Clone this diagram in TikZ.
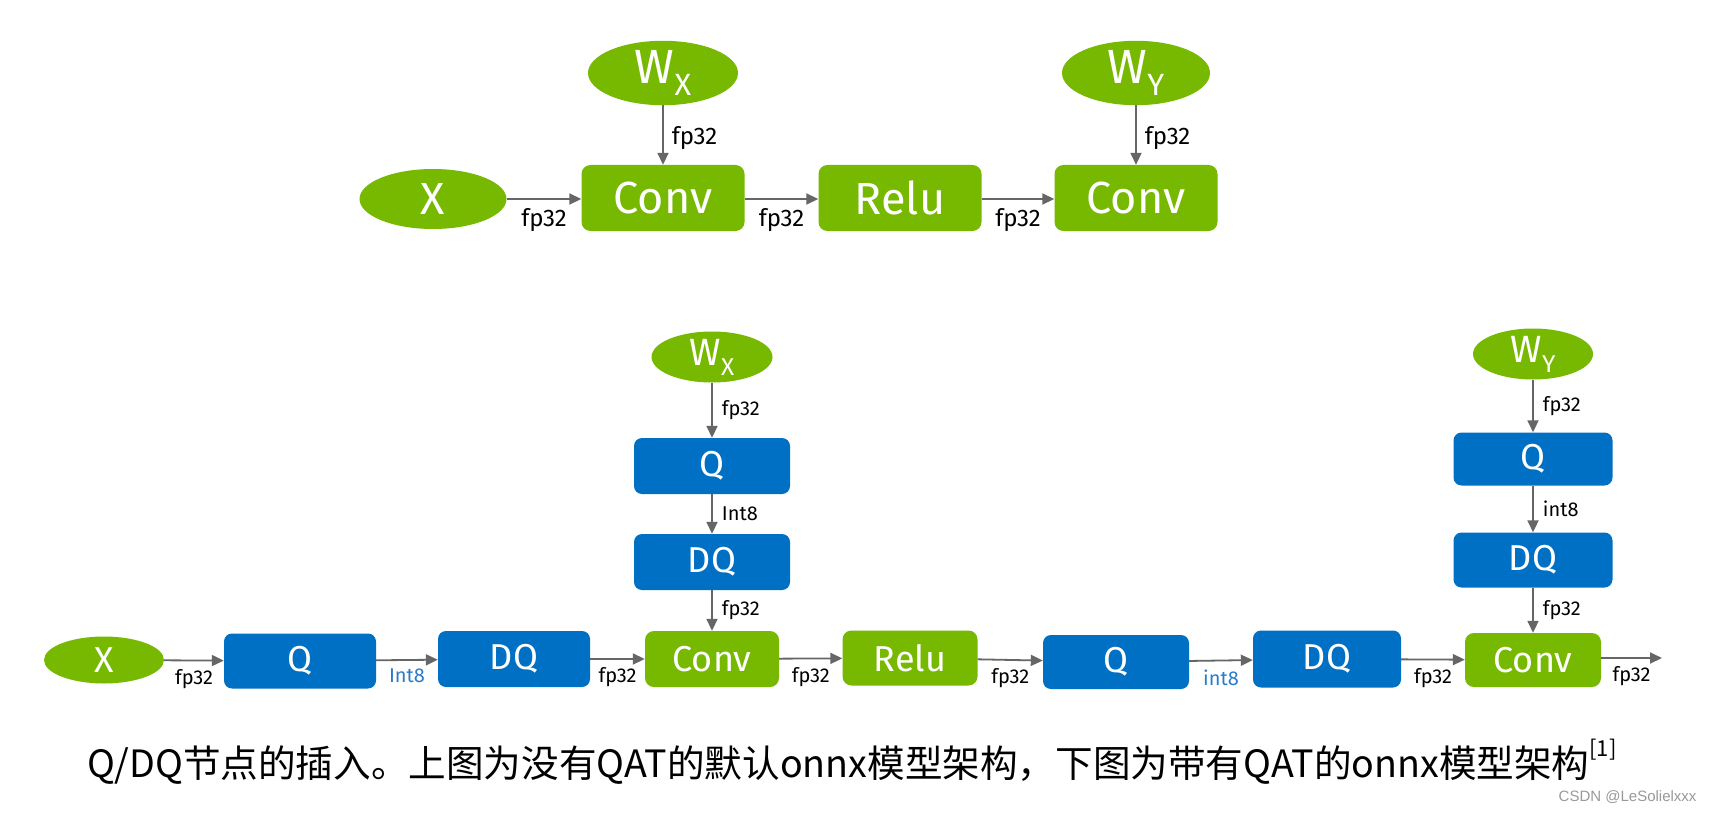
\documentclass[tikz,border=0pt]{standalone}
\usepackage{fontspec}
\setmainfont{Fira Sans}
\newfontfamily\cjk{Noto Sans CJK SC}
\newfontfamily\wmfont{Liberation Sans}
\usetikzlibrary{shapes.geometric,arrows.meta}
\definecolor{nvgreen}{HTML}{76B900}
\definecolor{qblue}{HTML}{0070C4}
\definecolor{arrgray}{HTML}{666666}
\definecolor{lblblue}{HTML}{2A7CC8}
\newcommand{\Wsub}[1]{W\raisebox{-0.26em}{\scalebox{0.64}{#1}}}
\tikzset{
  gbox/.style={rectangle, rounded corners=9pt, fill=nvgreen, text=white, inner sep=0pt},
  bbox/.style={rectangle, rounded corners=8pt, fill=qblue, text=white, inner sep=0pt},
  gell/.style={ellipse, fill=nvgreen, text=white, inner sep=0pt},
  arr/.style={draw=arrgray, line width=1.8pt, -{Triangle[length=12pt,width=11pt]}},
  lbl/.style={text=black, inner sep=1pt, font=\fontsize{20}{20}\selectfont},
  tlbl/.style={text=black, inner sep=1pt, font=\fontsize{24}{24}\selectfont},
  bigtxt/.style={font=\fontsize{45}{45}\selectfont},
  smtxt/.style={font=\fontsize{36}{36}\selectfont},
}
\begin{document}
\begin{tikzpicture}[x=1pt,y=-1pt]
\fill[white] (0,0) rectangle (1712,813);
\useasboundingbox (0,0) rectangle (1712,813);

% ---------- top graph ----------
\node[gell, minimum width=150pt, minimum height=60pt, font=\fontsize{48}{48}\selectfont] (wx1) at (663,73) {\Wsub{X}};
\node[gell, minimum width=148pt, minimum height=60pt, font=\fontsize{48}{48}\selectfont] (wy1) at (1136,73) {\Wsub{Y}};
\node[gell, minimum width=147pt, minimum height=60pt, bigtxt] (x1) at (433,199) {X};
\node[gbox, minimum width=163pt, minimum height=66pt, bigtxt] (c1) at (663,198) {Conv};
\node[gbox, minimum width=163pt, minimum height=66pt, bigtxt] (r1) at (900,198) {Relu};
\node[gbox, minimum width=163pt, minimum height=66pt, bigtxt] (c2) at (1136,198) {Conv};

\draw[arr] (x1.east |- 0,199) -- node[tlbl, below=8pt]{fp32} (c1.west |- 0,199);
\draw[arr] (c1.east |- 0,199) -- node[tlbl, below=8pt]{fp32} (r1.west |- 0,199);
\draw[arr] (r1.east |- 0,199) -- node[tlbl, below=8pt]{fp32} (c2.west |- 0,199);
\draw[arr] (wx1) -- node[tlbl, right=7pt, yshift=-3pt]{fp32} (c1);
\draw[arr] (wy1) -- node[tlbl, right=7pt, yshift=-3pt]{fp32} (c2);

% ---------- bottom graph ----------
\node[gell, minimum width=120pt, minimum height=47pt, smtxt] (x2) at (104,660) {X};
\node[bbox, minimum width=152pt, minimum height=55pt, smtxt] (q1) at (300,661) {Q};
\node[bbox, minimum width=152pt, minimum height=56pt, smtxt] (dq1) at (514,659) {DQ};
\node[gbox, minimum width=134pt, minimum height=56pt, smtxt] (c3) at (712,659) {Conv};
\node[gbox, minimum width=135pt, minimum height=55pt, smtxt] (r2) at (910,658) {Relu};
\node[bbox, minimum width=146pt, minimum height=54pt, smtxt] (q2) at (1116,662) {Q};
\node[bbox, minimum width=148pt, minimum height=57pt, smtxt] (dq2) at (1327,659) {DQ};
\node[gbox, minimum width=136pt, minimum height=54pt, smtxt] (c4) at (1533,660) {Conv};
\coordinate (out) at (1662,658);

\draw[arr] (x2) -- node[lbl, below=7pt]{fp32} (q1);
\draw[arr] (q1) -- node[lbl, below=7pt, text=lblblue]{Int8} (dq1);
\draw[arr] (dq1) -- node[lbl, below=7pt]{fp32} (c3);
\draw[arr] (c3) -- node[lbl, below=7pt]{fp32} (r2);
\draw[arr] (r2) -- node[lbl, below=7pt]{fp32} (q2);
\draw[arr] (q2) -- node[lbl, below=7pt, text=lblblue]{int8} (dq2);
\draw[arr] (dq2) -- node[lbl, below=7pt]{fp32} (c4);
\draw[arr] (c4.east |- out) -- node[lbl, below=7pt]{fp32} (out);

% column over first Conv
\node[gell, minimum width=121pt, minimum height=49pt, font=\fontsize{38}{38}\selectfont] (wx2) at (712,357) {\Wsub{X}};
\node[bbox, minimum width=156pt, minimum height=56pt, smtxt] (q3) at (712,466) {Q};
\node[bbox, minimum width=156pt, minimum height=56pt, smtxt] (dq3) at (712,562) {DQ};
\draw[arr] (wx2) -- node[lbl, right=8pt]{fp32} (q3);
\draw[arr] (q3) -- node[lbl, right=8pt]{Int8} (dq3);
\draw[arr] (dq3) -- node[lbl, right=8pt]{fp32} (c3);

% column over last Conv
\node[gell, minimum width=120pt, minimum height=47pt, font=\fontsize{38}{38}\selectfont] (wy2) at (1533,354) {\Wsub{Y}};
\node[bbox, minimum width=159pt, minimum height=53pt, smtxt] (q4) at (1533,459) {Q};
\node[bbox, minimum width=159pt, minimum height=55pt, smtxt] (dq4) at (1533,560) {DQ};
\draw[arr] (wy2) -- node[lbl, right=8pt]{fp32} (q4);
\draw[arr] (q4) -- node[lbl, right=8pt]{int8} (dq4);
\draw[arr] (dq4) -- node[lbl, right=8pt]{fp32} (c4);

% caption and watermark
\node[font=\cjk\fontsize{37.6}{37.6}\selectfont, text=black] (cap) at (852,762)
  {Q/DQ节点的插入。上图为没有QAT的默认onnx模型架构，下图为带有QAT的onnx模型架构\raisebox{0.55em}{\fontsize{22}{22}\selectfont[1]}};
\node[anchor=east, text=black!40, font=\wmfont\fontsize{15}{15}\selectfont] (wm) at (1700,797) {CSDN @LeSolielxxx};
\end{tikzpicture}
\end{document}
